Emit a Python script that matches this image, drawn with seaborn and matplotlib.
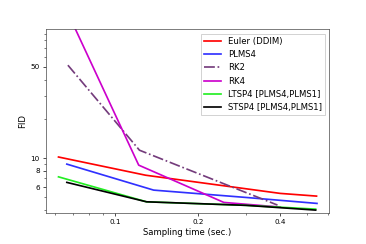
import numpy as np
import pandas as pd
import matplotlib
matplotlib.use("Agg")
import matplotlib.pyplot as plt
import matplotlib.ticker as mticker
import seaborn as sns

# --- dados (tempo de amostragem x FID) ---
euler_t = [0.062, 0.129, 0.40, 0.543]
euler_fid = [10.2, 7.4, 5.37, 5.12]

plms4_t = [0.0665, 0.138, 0.30, 0.545]
plms4_fid = [9.0, 5.69, 5.0, 4.5]

rk2_t = [0.0671, 0.1225, 0.391]
rk2_fid = [51.5, 11.5, 4.37]

rk4_t = [0.064, 0.1217, 0.249, 0.40]
rk4_fid = [160.0, 8.84, 4.58, 4.22]

ltsp4_t = [0.062, 0.130, 0.30, 0.539]
ltsp4_fid = [7.19, 4.63, 4.35, 4.07]

stsp4_t = [0.0665, 0.130, 0.30, 0.539]
stsp4_fid = [6.52, 4.63, 4.35, 4.0]

series = [
    ("Euler (DDIM)", euler_t, euler_fid, "red", "-"),
    ("PLMS4", plms4_t, plms4_fid, "#3030ff", "-"),
    ("RK2", rk2_t, rk2_fid, "#743c7c", "-."),
    ("RK4", rk4_t, rk4_fid, "#cc00cc", "-"),
    ("LTSP4 [PLMS4,PLMS1]", ltsp4_t, ltsp4_fid, "#22ee22", "-"),
    ("STSP4 [PLMS4,PLMS1]", stsp4_t, stsp4_fid, "black", "-"),
]

fig, ax = plt.subplots(figsize=(6, 4), dpi=61)
fig.subplots_adjust(left=0.125, right=0.9, top=0.88, bottom=0.127)

for nome, t, fid, cor, estilo in series:
    sns.lineplot(x=t, y=fid, ax=ax, color=cor, linestyle=estilo,
                 linewidth=2.0, label=nome, estimator=None, sort=False)

ax.set_xscale("log")
ax.set_yscale("log")
ax.set_xlim(0.0557, 0.605)
ax.set_ylim(3.8, 97)

ax.xaxis.set_major_locator(mticker.FixedLocator([0.1, 0.2, 0.4]))
ax.xaxis.set_major_formatter(mticker.FixedFormatter(["0.1", "0.2", "0.4"]))
ax.xaxis.set_minor_locator(mticker.FixedLocator([0.06, 0.07, 0.08, 0.09, 0.3, 0.5, 0.6]))
ax.xaxis.set_minor_formatter(mticker.NullFormatter())

ax.yaxis.set_major_locator(mticker.FixedLocator([6, 8, 10, 50]))
ax.yaxis.set_major_formatter(mticker.FixedFormatter(["6", "8", "10", "50"]))
ax.yaxis.set_minor_locator(mticker.FixedLocator([4, 5, 7, 9, 20, 30, 40, 60, 70, 80, 90]))
ax.yaxis.set_minor_formatter(mticker.NullFormatter())

ax.tick_params(axis="both", which="major", labelsize=8.5, length=3.5)
ax.tick_params(axis="both", which="minor", length=2)

ax.set_xlabel("Sampling time (sec.)", fontsize=10)
ax.set_ylabel("FID", fontsize=10)
for s in ax.spines.values():
    s.set_color("#444444")

ax.legend(loc="upper right", fontsize=10, frameon=True, fancybox=False,
          edgecolor="#cccccc", framealpha=1)

plt.savefig("out.png", dpi=61)
plt.close()
